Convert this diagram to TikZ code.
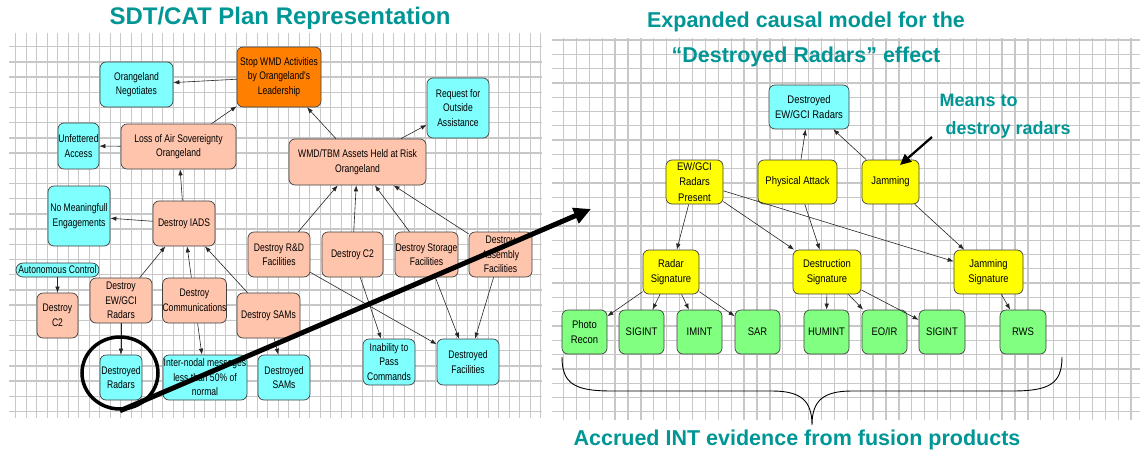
\documentclass[tikz,border=0pt]{standalone}
\usepackage{fontspec}
\setmainfont{Liberation Sans}
\newfontfamily\nfL[FakeStretch=0.78]{Liberation Sans}
\newfontfamily\nfR[FakeStretch=0.86]{Liberation Sans}
\usetikzlibrary{arrows.meta,shapes.geometric}
\definecolor{teal1}{RGB}{0,150,150}
\definecolor{cyanbox}{RGB}{128,255,255}
\definecolor{salmon}{RGB}{255,196,172}
\definecolor{orangebox}{RGB}{255,128,0}
\definecolor{yellowbox}{RGB}{255,255,0}
\definecolor{greenbox}{RGB}{128,255,128}
\definecolor{gridc}{RGB}{200,200,200}
\begin{document}
\begin{tikzpicture}[x=1pt,y=-1pt,
  lbox/.style={draw=black!75, line width=0.7pt, rounded corners=6pt, align=center, inner sep=0pt,
    font=\nfL\fontsize{11}{14.5}\selectfont},
  rbox/.style={draw=black!75, line width=0.7pt, rounded corners=6pt, align=center, inner sep=0pt,
    font=\nfR\fontsize{11}{15.5}\selectfont},
  conn/.style={-{Latex[length=6pt,width=4.5pt]}, line width=0.6pt, black!85},
  gridl/.style={gridc, line width=1.3pt},
  ttl/.style={teal1, font=\bfseries\fontsize{21.5}{24}\selectfont},
  sub/.style={teal1, font=\bfseries\fontsize{18}{20}\selectfont, anchor=west}]
\useasboundingbox (0,0) rectangle (1140,453);
\fill[white] (0,0) rectangle (1140,453);
% grids
\begin{scope}
\clip (9,33) rectangle (542,418);
\foreach \k in {0,...,51} {\draw[gridl] ({15.7+10.5*\k},33) -- ({15.7+10.5*\k},418);}
\foreach \k in {0,...,26} {\draw[gridl] (9,{31.5+15.2*\k}) -- (542,{31.5+15.2*\k});}
\end{scope}
\begin{scope}
\clip (552,38) rectangle (1140,420);
\foreach \k in {0,...,46} {\draw[gridl] ({550.6+12.9*\k},38) -- ({550.6+12.9*\k},420);}
\foreach \k in {0,...,27} {\draw[gridl] (552,{40+14.3*\k}) -- (1140,{40+14.3*\k});}
\end{scope}
% titles
\node[ttl, font=\bfseries\fontsize{24}{26}\selectfont] (t1) at (280,18) {SDT/CAT Plan Representation};
\node[ttl] (t2) at (806,22) {Expanded causal model for the};
\node[ttl] (t3) at (806,57) {``Destroyed Radars'' effect};
\node[ttl] (t4) at (797,440) {Accrued INT evidence from fusion products};
\node[sub] (m1) at (936,100) {Means to};
\node[sub] (m2) at (942,130) {destroy radars};
% left nodes
\node[lbox, fill=orangebox, minimum width=84pt, minimum height=60pt] (stop) at (279,77) {Stop WMD Activities\\by Orangeland's\\Leadership};
\node[lbox, fill=cyanbox, minimum width=73pt, minimum height=45pt] (neg) at (136.5,84.5) {Orangeland\\Negotiates};
\node[lbox, fill=cyanbox, minimum width=41pt, minimum height=46pt] (unf) at (78.5,146) {Unfettered\\Access};
\node[lbox, fill=salmon, minimum width=115pt, minimum height=45pt] (loss) at (178.5,146.5) {Loss of Air Sovereignty\\Orangeland};
\node[lbox, fill=cyanbox, minimum width=62pt, minimum height=60pt] (req) at (458,108) {Request for\\Outside\\Assistance};
\node[lbox, fill=salmon, minimum width=137pt, minimum height=46pt] (wmd) at (357.5,162) {WMD/TBM Assets Held at Risk\\Orangeland};
\node[lbox, fill=cyanbox, minimum width=62pt, minimum height=60pt] (nme) at (79,216) {No Meaningfull\\Engagements};
\node[lbox, fill=salmon, minimum width=62pt, minimum height=45pt] (iads) at (184,223.5) {Destroy IADS};
\node[lbox, fill=cyanbox, rounded corners=7pt, minimum width=83pt, minimum height=14pt] (auto) at (57.5,270) {Autonomous Control};
\node[lbox, fill=salmon, minimum width=41pt, minimum height=45pt] (dc2a) at (57.5,315.5) {Destroy\\C2};
\node[lbox, fill=salmon, minimum width=62pt, minimum height=45pt] (dew) at (121,300.5) {Destroy\\EW/GCI\\Radars};
\node[lbox, fill=salmon, minimum width=63pt, minimum height=45pt] (dcom) at (194.5,300.5) {Destroy\\Communications};
\node[lbox, fill=salmon, minimum width=63pt, minimum height=45pt] (dsam) at (268.5,315.5) {Destroy SAMs};
\node[lbox, fill=salmon, minimum width=62pt, minimum height=45pt] (drd) at (279,254.5) {Destroy R\&D\\Facilities};
\node[lbox, fill=salmon, minimum width=61pt, minimum height=45pt] (dc2b) at (352.5,254.5) {Destroy C2};
\node[lbox, fill=salmon, minimum width=63pt, minimum height=45pt] (dsto) at (426.5,254.5) {Destroy Storage\\Facilities};
\node[lbox, fill=salmon, minimum width=63pt, minimum height=45pt] (dasm) at (500.5,254.5) {Destroy\\Assembly\\Facilities};
\node[lbox, fill=cyanbox, minimum width=42pt, minimum height=45pt] (drad) at (121,377.5) {Destroyed\\Radars};
\node[lbox, fill=cyanbox, minimum width=84pt, minimum height=45pt] (inter) at (205,377.5) {Inter-nodal messages\\less than 50\% of\\normal};
\node[lbox, fill=cyanbox, minimum width=52pt, minimum height=45pt] (dsams) at (284,377.5) {Destroyed\\SAMs};
\node[lbox, fill=cyanbox, minimum width=52pt, minimum height=46pt] (inab) at (389,362) {Inability to\\Pass\\Commands};
\node[lbox, fill=cyanbox, minimum width=62pt, minimum height=46pt] (dfac) at (468,362) {Destroyed\\Facilities};
% left connectors
\draw[conn] (stop) -- (neg);
\draw[conn] (loss) -- (stop);
\draw[conn] (loss) -- (unf);
\draw[conn] (iads) -- (loss);
\draw[conn] (iads) -- (nme);
\draw[conn] (wmd) -- (stop);
\draw[conn] (wmd) -- (req);
\draw[conn] (drd) -- (wmd);
\draw[conn] (dc2b) -- (wmd);
\draw[conn] (dsto) -- (wmd);
\draw[conn] (dasm) -- (wmd);
\draw[conn] (dew) -- (iads);
\draw[conn] (dcom) -- (iads);
\draw[conn] (dsam) -- (iads);
\draw[conn] (auto) -- (dc2a);
\draw[conn] (dew) -- (drad);
\draw[conn] (dcom) -- (inter);
\draw[conn] (dsam) -- (dsams);
\draw[conn] (dc2b) -- (inab);
\draw[conn] (drd) -- (dfac);
\draw[conn] (dsto) -- (dfac);
\draw[conn] (dasm) -- (dfac);
% right nodes
\node[rbox, fill=cyanbox, minimum width=80pt, minimum height=44pt] (dewr) at (809,107) {Destroyed\\EW/GCI Radars};
\node[rbox, fill=yellowbox, minimum width=57pt, minimum height=44pt] (erp) at (694.5,182) {EW/GCI\\Radars\\Present};
\node[rbox, fill=yellowbox, minimum width=79pt, minimum height=44pt] (pa) at (797.5,182) {Physical Attack};
\node[rbox, fill=yellowbox, minimum width=57pt, minimum height=44pt] (jam) at (890.5,182) {Jamming};
\node[rbox, fill=yellowbox, minimum width=56pt, minimum height=44pt] (rs) at (671,272) {Radar\\Signature};
\node[rbox, fill=yellowbox, minimum width=68pt, minimum height=44pt] (ds) at (827,272) {Destruction\\Signature};
\node[rbox, fill=yellowbox, minimum width=69pt, minimum height=44pt] (js) at (988.5,272) {Jamming\\Signature};
\node[rbox, fill=greenbox, minimum width=45pt, minimum height=44pt] (pr) at (584.5,332) {Photo\\Recon};
\node[rbox, fill=greenbox, minimum width=45pt, minimum height=44pt] (sig1) at (641.5,332) {SIGINT};
\node[rbox, fill=greenbox, minimum width=45pt, minimum height=44pt] (imint) at (699.5,332) {IMINT};
\node[rbox, fill=greenbox, minimum width=45pt, minimum height=44pt] (sar) at (757.5,332) {SAR};
\node[rbox, fill=greenbox, minimum width=45pt, minimum height=44pt] (hum) at (826.5,332) {HUMINT};
\node[rbox, fill=greenbox, minimum width=45pt, minimum height=44pt] (eoir) at (884.5,332) {EO/IR};
\node[rbox, fill=greenbox, minimum width=46pt, minimum height=44pt] (sig2) at (942,332) {SIGINT};
\node[rbox, fill=greenbox, minimum width=46pt, minimum height=44pt] (rws) at (1023,332) {RWS};
% right connectors
\draw[conn] (pa) -- (dewr);
\draw[conn] (jam) -- (dewr);
\draw[conn] (erp) -- (rs);
\draw[conn] (erp) -- (ds);
\draw[conn] (erp) -- (js);
\draw[conn] (pa) -- (ds);
\draw[conn] (jam) -- (js);
\draw[conn] (rs) -- (pr);
\draw[conn] (rs) -- (sig1);
\draw[conn] (rs) -- (imint);
\draw[conn] (rs) -- (sar);
\draw[conn] (ds) -- (hum);
\draw[conn] (ds) -- (eoir);
\draw[conn] (ds) -- (sig2);
\draw[conn] (js) -- (rws);
% means arrow
\coordinate (mS) at (932,137);
\coordinate (mE) at (900,165);
\draw[line width=2.2pt, -{Triangle[length=11pt,width=10pt]}] (mS) -- (mE);
% brace
\draw[line width=0.9pt] (562,357) .. controls (562,384) and (575,391) .. (612,391) -- (772,391)
  .. controls (800,391) and (812,400) .. (812,425)
  .. controls (812,400) and (824,391) .. (852,391) -- (1012,391)
  .. controls (1049,391) and (1062,384) .. (1062,357);
% highlight circle and big arrow
\node[draw, ellipse, line width=3.5pt, minimum width=76pt, minimum height=72pt, inner sep=0pt] (circ) at (120,373) {};
\coordinate (bigE) at (591,209);
\draw[line width=5pt, -{Triangle[length=17pt,width=16pt]}] (circ.south) -- (bigE);
\end{tikzpicture}
\end{document}
